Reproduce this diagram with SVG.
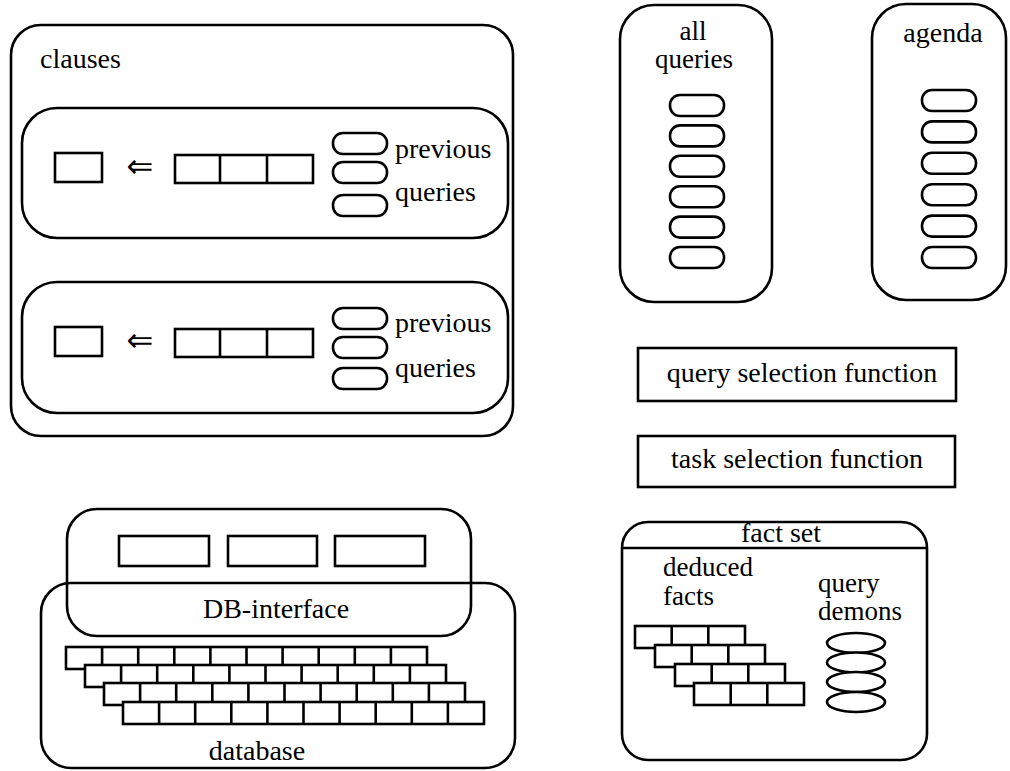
<svg xmlns="http://www.w3.org/2000/svg" width="1010" height="771" viewBox="0 0 1010 771">
<style>
.b{fill:none;stroke:#000;stroke-width:2.6}
.w{fill:#fff;stroke:#000;stroke-width:2.6}
.l{stroke:#000;stroke-width:2.6}
.t{font-family:'Liberation Serif','Times New Roman','DejaVu Serif',serif;font-size:28px;fill:#000}
.s{font-size:27px}
.m{text-anchor:middle}
.ar{font-family:'DejaVu Sans',sans-serif;font-size:32px;fill:#000;text-anchor:middle}
</style>
<defs>
<rect id="pill" x="0" y="0" width="54" height="21" rx="10" ry="10" class="w"/>
<g id="brick10">
<rect x="0" y="0" width="361" height="22" class="w"/>
<path class="l" d="M36.1 0V22M72.2 0V22M108.3 0V22M144.4 0V22M180.5 0V22M216.6 0V22M252.7 0V22M288.8 0V22M324.9 0V22"/>
</g>
<g id="brick3">
<rect x="0" y="0" width="110" height="22" class="w"/>
<path class="l" d="M36.7 0V22M73.3 0V22"/>
</g>
<g id="clause">
<rect x="33" y="0" width="47" height="29" class="b"/>
<text x="118" y="24" class="ar">⇐</text>
<rect x="153" y="2" width="138" height="28" class="b"/>
<path class="l" d="M198 2V30M245 2V30"/>
</g>
</defs>

<g id="clauses">
<rect x="11" y="25" width="502" height="411" rx="30" ry="30" class="b"/>
<text x="40" y="68" class="t">clauses</text>
</g>

<g id="clause1">
<rect x="22" y="108" width="486" height="130" rx="35" ry="35" class="b"/>
<use href="#clause" x="22" y="153"/>
<use href="#pill" x="333" y="133"/>
<use href="#pill" x="333" y="162"/>
<use href="#pill" x="333" y="195"/>
<text x="395" y="158" class="t">previous</text>
<text x="395" y="201" class="t">queries</text>
</g>

<g id="clause2">
<rect x="22" y="282" width="486" height="131" rx="35" ry="35" class="b"/>
<use href="#clause" x="22" y="327"/>
<use href="#pill" x="333" y="308"/>
<use href="#pill" x="333" y="337"/>
<use href="#pill" x="333" y="368"/>
<text x="395" y="332" class="t">previous</text>
<text x="395" y="377" class="t">queries</text>
</g>

<g id="all-queries">
<rect x="620" y="5" width="152" height="297" rx="34" ry="34" class="b"/>
<text x="693" y="40" class="t s m">all</text>
<text x="694" y="68" class="t s m">queries</text>
<use href="#pill" x="670" y="95"/>
<use href="#pill" x="670" y="125.4"/>
<use href="#pill" x="670" y="155.8"/>
<use href="#pill" x="670" y="186.2"/>
<use href="#pill" x="670" y="216.6"/>
<use href="#pill" x="670" y="247"/>
</g>

<g id="agenda">
<rect x="872" y="4" width="134" height="296" rx="34" ry="34" class="b"/>
<text x="943" y="42" class="t m">agenda</text>
<use href="#pill" x="922" y="90"/>
<use href="#pill" x="922" y="121.4"/>
<use href="#pill" x="922" y="152.8"/>
<use href="#pill" x="922" y="184.2"/>
<use href="#pill" x="922" y="215.6"/>
<use href="#pill" x="922" y="247"/>
</g>

<g id="query-selection">
<rect x="638" y="348" width="318" height="53" class="b"/>
<text x="802" y="382" class="t m">query selection function</text>
</g>

<g id="task-selection">
<rect x="638" y="436" width="317" height="51" class="b"/>
<text x="797" y="468" class="t m">task selection function</text>
</g>

<g id="fact-set">
<rect x="622" y="522" width="305" height="238" rx="26" ry="26" class="b"/>
<path class="l" d="M623 548H926"/>
<text x="781" y="542" class="t m">fact set</text>
<text x="663" y="576" class="t s">deduced</text>
<text x="663" y="605" class="t s">facts</text>
<text x="818" y="592" class="t s">query</text>
<text x="818" y="620" class="t s">demons</text>
<use href="#brick3" x="635" y="626"/>
<use href="#brick3" x="655" y="645"/>
<use href="#brick3" x="675" y="664"/>
<use href="#brick3" x="694" y="683"/>
<ellipse cx="856" cy="643" rx="29" ry="10" class="w"/>
<ellipse cx="856" cy="662.5" rx="29" ry="10" class="w"/>
<ellipse cx="856" cy="682" rx="29" ry="10" class="w"/>
<ellipse cx="856" cy="702" rx="29" ry="10" class="w"/>
</g>

<g id="database">
<rect x="41" y="583" width="474" height="185" rx="30" ry="30" class="b"/>
<use href="#brick10" x="66" y="647"/>
<use href="#brick10" x="85" y="665"/>
<use href="#brick10" x="104" y="683"/>
<use href="#brick10" x="123" y="702"/>
<text x="257" y="760" class="t m">database</text>
</g>

<g id="db-interface">
<rect x="67" y="509" width="404" height="127" rx="30" ry="30" class="b"/>
<rect x="119" y="536" width="90" height="30" class="b"/>
<rect x="228" y="536" width="89" height="30" class="b"/>
<rect x="335" y="536" width="90" height="30" class="b"/>
<text x="276" y="618" class="t m">DB-interface</text>
</g>

<g id="connectors"></g>
</svg>
